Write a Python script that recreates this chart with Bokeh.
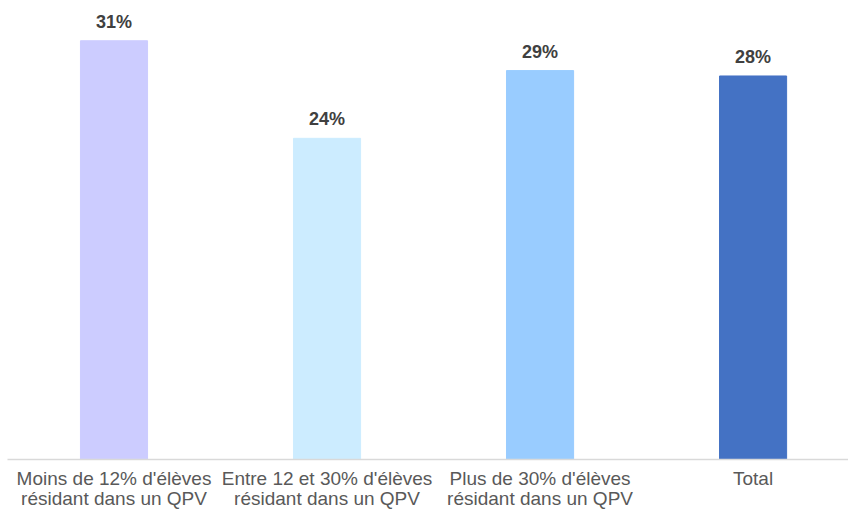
from bokeh.plotting import figure
from bokeh.models import ColumnDataSource, Range1d, FixedTicker
from bokeh.core.properties import value
from bokeh.embed import file_html
from bokeh.resources import INLINE

categories = [
    "Moins de 12% d'élèves\nrésidant dans un QPV",
    "Entre 12 et 30% d'élèves\nrésidant dans un QPV",
    "Plus de 30% d'élèves\nrésidant dans un QPV",
    "Total",
]
values = [30.9, 23.7, 28.7, 28.3]
labels = ["31%", "24%", "29%", "28%"]
colors = ["#CCCCFF", "#CCECFF", "#99CCFF", "#4472C4"]

xs = [i + 0.5 for i in range(len(categories))]

src = ColumnDataSource(dict(x=xs, top=values, label=labels, color=colors))

p = figure(frame_width=841, frame_height=459, output_backend="svg", toolbar_location=None,
           x_range=Range1d(0, 3.948), y_range=Range1d(0, 33.87),
           min_border_left=7, min_border_right=0, min_border_top=0,
           min_border_bottom=0)
p.outline_line_color = None
p.background_fill_color = "white"
p.border_fill_color = "white"
p.xgrid.visible = False
p.ygrid.visible = False
p.yaxis.visible = False

p.vbar(x="x", top="top", bottom=0, width=0.315, color="color", source=src)

p.text(x="x", y="top", text="label", source=src, text_align="center",
       text_baseline="alphabetic", y_offset=-19,
       text_font=value("Liberation Sans"), text_font_style="bold",
       text_font_size="18px", text_color="#404040")

ax = p.xaxis[0]
ax.ticker = FixedTicker(ticks=xs)
ax.major_label_overrides = {x: c for x, c in zip(xs, categories)}
ax.axis_line_color = "#D9D9D9"
ax.axis_line_width = 1.5
ax.major_tick_line_color = None
ax.minor_tick_line_color = None
ax.major_tick_out = 0
ax.major_tick_in = 0
ax.major_label_standoff = 8
ax.major_label_text_font = "Liberation Sans"
ax.major_label_text_font_size = "19px"
ax.major_label_text_color = "#595959"
ax.major_label_text_line_height = 0.98

open("out.html", "w").write(file_html(p, INLINE))
